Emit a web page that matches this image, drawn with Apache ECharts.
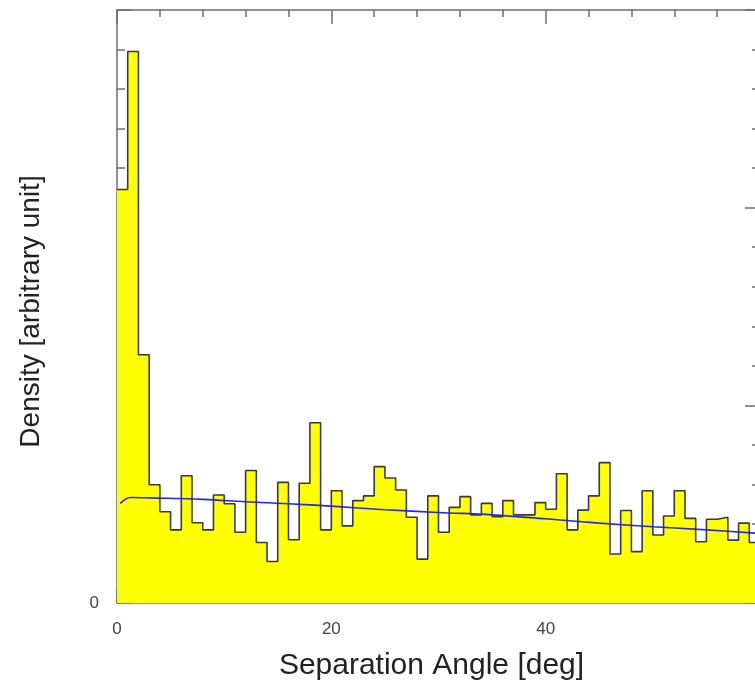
<!DOCTYPE html>
<html>
<head>
<meta charset="utf-8">
<script src="https://cdn.jsdelivr.net/npm/echarts@6/dist/echarts.min.js"></script>
<style>
html,body{margin:0;padding:0;background:#fff;}
#chart{width:755px;height:686px;}
</style>
</head>
<body>
<div id="chart"></div>
<script>
// Left edges of the 1-degree bins
var binStarts = [0,1,2,3,4,5,6,7,8,9,10,11,12,13,14,15,16,17,18,19,
  20,21,22,23,24,25,26,27,28,29,30,31,32,33,34,35,36,37,38,39,
  40,41,42,43,44,45,46,47,48,49,50,51,52,53,54,55,56,57,58,59];
var binEnd = 60;
// Histogram density (arbitrary units)
var density = [10.46,13.95,6.28,2.99,2.31,1.85,3.22,2.03,1.85,2.73,
  2.51,1.79,3.35,1.53,1.05,3.05,1.60,3.03,4.56,1.85,
  2.84,1.95,2.59,2.71,3.45,3.16,2.86,2.17,1.11,2.71,
  1.79,2.42,2.69,2.23,2.52,2.18,2.59,2.23,2.23,2.54,
  2.37,3.27,1.85,2.35,2.71,3.55,1.24,2.34,1.30,2.84,
  1.72,2.20,2.84,2.14,1.55,2.12,2.17,1.59,2.02,1.53];
// Fitted curve (blue)
var fitAngle = [0.3,1.3,3,8,12,16,20,25,30,35,40,45,50,55,60];
var fitDensity = [2.52,2.67,2.66,2.62,2.56,2.51,2.45,2.36,2.29,2.23,2.13,2.02,1.93,1.85,1.76];
var xTickLabels = ['0','20','40'];
var yTickLabels = ['0'];

var histData = binStarts.map(function(x,i){return [x,density[i]];});
histData.push([binEnd, density[density.length-1]]);
var fitData = fitAngle.map(function(x,i){return [x,fitDensity[i]];});

var axisCol = '#6e6e6e';
var chart = echarts.init(document.getElementById('chart'), null, {renderer:'canvas'});
var font = 'Liberation Sans, Helvetica, Arial, sans-serif';

function xAxisCfg(pos, labels){
  return {
    type:'value', position:pos, min:0, max:60, interval:20,
    axisLine:{show:true, onZero:false, lineStyle:{color:axisCol, width:1.5}},
    axisTick:{show:true, inside:true, length:14, lineStyle:{color:axisCol, width:1.5}},
    minorTick:{show:true, splitNumber:5, length:7, lineStyle:{color:axisCol, width:1.5}},
    splitLine:{show:false},
    axisLabel:{show:labels, margin:18, color:'#444', fontSize:17, fontFamily:font,
      formatter:function(v){var s=String(v); return xTickLabels.indexOf(s)>=0?s:'';}}
  };
}
function yAxisCfg(pos, labels){
  return {
    type:'value', position:pos, min:0, max:15, interval:5,
    axisLine:{show:true, onZero:false, lineStyle:{color:axisCol, width:1.5}},
    axisTick:{show:true, inside:true, length:15, lineStyle:{color:axisCol, width:1.5}},
    minorTick:{show:true, splitNumber:5, length:8, lineStyle:{color:axisCol, width:1.5}},
    splitLine:{show:false},
    axisLabel:{show:labels, margin:18, color:'#444', fontSize:17, fontFamily:font,
      formatter:function(v){var s=String(v); return yTickLabels.indexOf(s)>=0?s:'';}}
  };
}

var xb = xAxisCfg('bottom', true);
xb.name = 'Separation Angle [deg]';
xb.nameLocation = 'middle';
xb.nameGap = 48;
xb.nameTextStyle = {fontSize:30, color:'#222', fontFamily:font, padding:[0,14,0,0]};
var xt = xAxisCfg('top', false);
var yl = yAxisCfg('left', true);
yl.name = 'Density [arbitrary unit]';
yl.nameLocation = 'middle';
yl.nameGap = 72;
yl.nameTextStyle = {fontSize:28, color:'#222', fontFamily:font, padding:[0,10,0,0]};
var yr = yAxisCfg('right', false);

chart.setOption({
  animation:false,
  backgroundColor:'#fff',
  grid:{left:117, top:10, width:643, height:593, containLabel:false, outerBoundsMode:'none'},
  xAxis:[xb, xt],
  yAxis:[yl, yr],
  series:[
    {type:'line', xAxisIndex:0, yAxisIndex:0, data:histData, step:'end',
     symbol:'none', z:2,
     lineStyle:{color:'#3a3a3a', width:1.6},
     areaStyle:{color:'#ffff00', opacity:1, origin:'start'}},
    {type:'line', xAxisIndex:0, yAxisIndex:0, data:fitData, smooth:0.4,
     symbol:'none', z:3,
     lineStyle:{color:'#2626e0', width:1.6}}
  ]
});
</script>
</body>
</html>
